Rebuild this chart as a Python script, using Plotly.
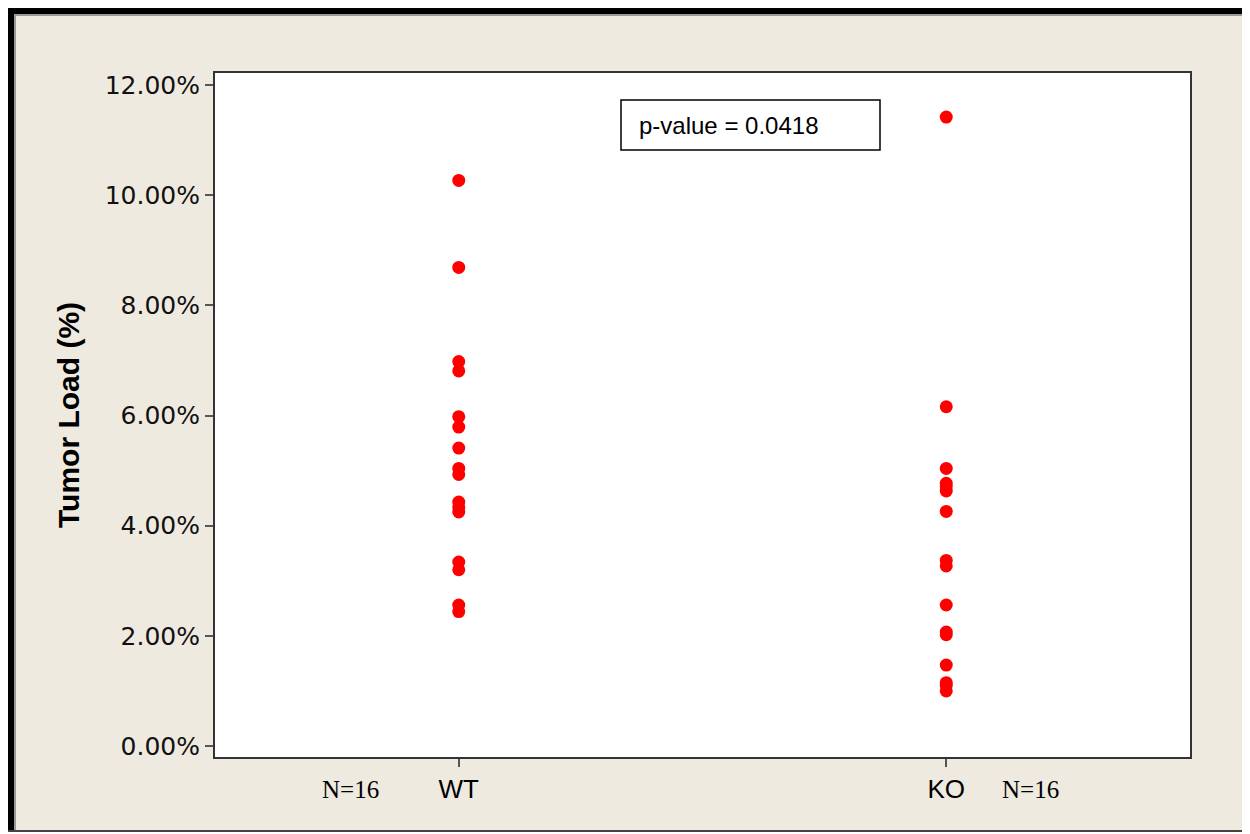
import plotly.graph_objects as go

# ---- data ----
groups = ["WT", "KO"]
wt_values = [10.27, 8.69, 6.98, 6.81, 5.98, 5.79, 5.41, 5.04, 4.93, 4.43, 4.34, 4.25,
             3.34, 3.20, 2.56, 2.44]
ko_values = [11.42, 6.16, 5.04, 4.77, 4.71, 4.63, 4.26, 3.37, 3.27, 2.56, 2.07, 2.02,
             1.47, 1.15, 1.10, 1.00]
y_tickvals = [0, 2, 4, 6, 8, 10, 12]
y_ticktext = ["0.00%", "2.00%", "4.00%", "6.00%", "8.00%", "10.00%", "12.00%"]
n_labels = ["N=16", "N=16"]
p_text = "p-value = 0.0418"
y_title = "Tumor Load (%)"

OFF = 8  # page body margin
W, H = 1240, 824
L, R, T, B = 207, 1182, 65, 749  # plot area in figure pixels


def px(x):  # screen x -> paper
    return (x - OFF - L) / (R - L)


def py(y):  # screen y -> paper
    return (B - (y - OFF)) / (B - T)


fig = go.Figure()
fig.add_trace(go.Scatter(x=[groups[0]] * len(wt_values), y=wt_values, mode="markers",
                         marker=dict(color="#FF0000", size=13), showlegend=False))
fig.add_trace(go.Scatter(x=[groups[1]] * len(ko_values), y=ko_values, mode="markers",
                         marker=dict(color="#FF0000", size=13), showlegend=False))

shapes = [
    dict(type="rect", xref="paper", yref="paper", x0=px(8), x1=px(1248), y0=py(832), y1=py(8),
         fillcolor="#EFEAE0", line=dict(width=0), layer="below"),
    dict(type="rect", xref="paper", yref="paper", x0=0, x1=1, y0=0, y1=1,
         fillcolor="white", line=dict(width=0), layer="below"),
    dict(type="rect", xref="paper", yref="paper", x0=px(8), x1=px(14), y0=py(832), y1=py(8),
         fillcolor="black", line=dict(width=0)),
    dict(type="rect", xref="paper", yref="paper", x0=px(8), x1=px(1248), y0=py(14), y1=py(8),
         fillcolor="black", line=dict(width=0)),
    dict(type="rect", xref="paper", yref="paper", x0=px(14), x1=px(16), y0=py(832), y1=py(14),
         fillcolor="#9a9a9a", line=dict(width=0)),
    dict(type="rect", xref="paper", yref="paper", x0=px(14), x1=px(1248), y0=py(16), y1=py(14),
         fillcolor="#9a9a9a", line=dict(width=0)),
    dict(type="rect", xref="paper", yref="paper", x0=px(1246), x1=px(1248), y0=py(832), y1=py(8),
         fillcolor="#444444", line=dict(width=0)),
    dict(type="rect", xref="paper", yref="paper", x0=px(8), x1=px(1248), y0=py(832), y1=py(830),
         fillcolor="#444444", line=dict(width=0)),
    dict(type="rect", xref="paper", yref="paper", x0=px(621), x1=px(880), y0=py(150), y1=py(100),
         fillcolor="white", line=dict(color="black", width=1.5)),
]

annotations = [
    dict(text=p_text, xref="paper", yref="paper", x=px(637), y=py(126), xanchor="left",
         yanchor="middle", showarrow=False,
         font=dict(family="Liberation Sans, Arial, sans-serif", size=24, color="black")),
    dict(text=f"<b>{y_title}</b>", xref="paper", yref="paper", x=px(68), y=py(415),
         xanchor="center", yanchor="middle", textangle=-90, showarrow=False,
         font=dict(family="Liberation Sans, Arial, sans-serif", size=30, color="black")),
    dict(text=n_labels[0], xref="paper", yref="paper", x=px(350), y=py(789),
         xanchor="center", yanchor="middle", showarrow=False,
         font=dict(family="Liberation Serif, Times New Roman, serif", size=25, color="black")),
    dict(text=n_labels[1], xref="paper", yref="paper", x=px(1030), y=py(789),
         xanchor="center", yanchor="middle", showarrow=False,
         font=dict(family="Liberation Serif, Times New Roman, serif", size=25, color="black")),
]

fig.update_layout(
    width=W, height=H,
    margin=dict(l=L, r=W - R, t=T, b=H - B, pad=0),
    paper_bgcolor="white", plot_bgcolor="white",
    shapes=shapes, annotations=annotations,
    xaxis=dict(type="category", categoryorder="array", categoryarray=groups,
               range=[-0.5, 1.5], showline=True, mirror=True, linecolor="#333333",
               linewidth=2, ticks="outside", ticklen=8, tickwidth=1.5, tickcolor="#555555",
               showgrid=False, zeroline=False,
               tickfont=dict(family="Liberation Sans, Arial, sans-serif", size=26,
                             color="black")),
    yaxis=dict(range=[-0.2, 12.22], tickmode="array", tickvals=y_tickvals,
               ticktext=y_ticktext, showline=True, mirror=True, linecolor="#333333",
               linewidth=2, ticks="outside", ticklen=8, tickwidth=1.5, tickcolor="#555555",
               showgrid=False, zeroline=False,
               tickfont=dict(family="DejaVu Sans, Verdana, sans-serif", size=25,
                             color="#111111")),
)

fig.write_html("out.html")
